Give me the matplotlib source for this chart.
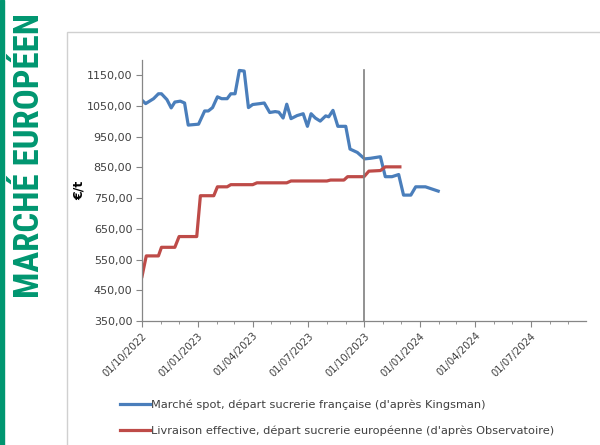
import matplotlib
matplotlib.use('Agg')
import matplotlib.pyplot as plt
import matplotlib.dates as mdates
from matplotlib.ticker import FuncFormatter
import numpy as np
import datetime as dt

# spot market, ex French sugar factory (Kingsman)
spot_dates = ['2022-10-01', '2022-10-07', '2022-10-20', '2022-10-28', '2022-11-02', '2022-11-11',
              '2022-11-18', '2022-11-24', '2022-12-03', '2022-12-10', '2022-12-16', '2023-01-02',
              '2023-01-12', '2023-01-18', '2023-01-25', '2023-02-02', '2023-02-09', '2023-02-18',
              '2023-02-24', '2023-03-03', '2023-03-10', '2023-03-18', '2023-03-25', '2023-04-01',
              '2023-04-13', '2023-04-20', '2023-04-29', '2023-05-08', '2023-05-14', '2023-05-21',
              '2023-05-27', '2023-06-03', '2023-06-13', '2023-06-23', '2023-06-30', '2023-07-06',
              '2023-07-13', '2023-07-21', '2023-07-30', '2023-08-04', '2023-08-11', '2023-08-19',
              '2023-09-01', '2023-09-08', '2023-09-20', '2023-10-02', '2023-10-12', '2023-10-28',
              '2023-11-05', '2023-11-16', '2023-11-27', '2023-12-05', '2023-12-17', '2023-12-25',
              '2024-01-10', '2024-01-31']
spot_values = [1069, 1058, 1074, 1090, 1090, 1071, 1044, 1063, 1066, 1060, 988, 991,
               1034, 1034, 1045, 1080, 1074, 1074, 1090, 1090, 1166, 1164, 1045, 1055,
               1058, 1060, 1029, 1032, 1030, 1011, 1056, 1009, 1019, 1025, 984, 1025,
               1011, 1001, 1018, 1015, 1036, 984, 984, 910, 899, 878, 880, 885,
               820, 820, 827, 760, 760, 787, 787, 773]

# effective delivery, ex EU sugar factory (Observatoire)
deliv_dates = ['2022-10-01', '2022-10-08', '2022-10-28', '2022-11-02', '2022-11-24', '2022-12-01',
               '2022-12-30', '2023-01-05', '2023-01-27', '2023-02-02', '2023-02-18', '2023-02-24',
               '2023-04-01', '2023-04-08', '2023-05-27', '2023-06-03', '2023-08-01', '2023-08-07',
               '2023-08-29', '2023-09-04', '2023-10-01', '2023-10-09', '2023-10-28', '2023-11-05',
               '2023-11-29']
deliv_values = [495, 562, 562, 590, 590, 625, 625, 758, 758, 787, 787, 794,
                794, 800, 800, 806, 806, 809, 809, 820, 820, 838, 840, 852,
                852]

marker_dates = ['2023-10-01', '2023-10-01']
marker_values = [350, 1168]

tick_dates = ['2022-10-01', '2023-01-01', '2023-04-01', '2023-07-01', '2023-10-01',
              '2024-01-01', '2024-04-01', '2024-07-01']

labels = ["Marché spot, départ sucrerie française (d'après Kingsman)",
          "Livraison effective, départ sucrerie européenne (d'après Observatoire)"]

BLUE = '#4a7ebb'
RED = '#be4b48'
GREEN = '#009670'
GREY = '#404040'


def to_dates(lst):
    return [dt.datetime.strptime(s, '%Y-%m-%d') for s in lst]


fig = plt.figure(figsize=(6, 4.45), dpi=100)

# green strip and title on the left
fig.patches.append(plt.Rectangle((0, 0), 4 / 600, 1, transform=fig.transFigure,
                                 color=GREEN, zorder=0))
fig.text(30 / 600, 1 - 156 / 445, 'MARCHÉ EUROPÉEN', rotation=90, color=GREEN,
         family=['Roboto Condensed', 'Roboto', 'DejaVu Sans'], fontweight='bold',
         fontsize=25, ha='center', va='center')

# chart frame
fig.patches.append(plt.Rectangle((67 / 600, -0.1), 1.0, 1 - 32 / 445 + 0.1,
                                 transform=fig.transFigure, fill=False,
                                 edgecolor='#d0d0d0', linewidth=1.0, zorder=0))

ax = fig.add_axes([142 / 600, 1 - 321 / 445, 444 / 600, 261 / 445])

l1, = ax.plot(to_dates(spot_dates), spot_values, color=BLUE, lw=2.3,
              solid_joinstyle='round')
l2, = ax.plot(to_dates(deliv_dates), deliv_values, color=RED, lw=2.3,
              solid_joinstyle='round')
ax.plot(to_dates(marker_dates), marker_values, color='#7f7f7f', lw=1.2)

ax.set_ylim(350, 1200)
ax.set_yticks(np.arange(350, 1151, 100))
ax.yaxis.set_major_formatter(FuncFormatter(lambda v, p: f'{v:.2f}'.replace('.', ',')))
ax.set_xlim(dt.datetime(2022, 10, 1), dt.datetime(2024, 9, 30))
ax.set_xticks(to_dates(tick_dates))
ax.xaxis.set_major_formatter(mdates.DateFormatter('%d/%m/%Y'))
ax.xaxis.set_minor_locator(mdates.MonthLocator())

for s in ['top', 'right']:
    ax.spines[s].set_visible(False)
for s in ['left', 'bottom']:
    ax.spines[s].set_color('#868686')
    ax.spines[s].set_linewidth(0.9)

ax.tick_params(axis='y', which='major', length=4, color='#868686', labelsize=8,
               labelcolor=GREY, pad=3)
ax.tick_params(axis='x', which='major', length=4, color='#868686', labelsize=7.2,
               labelcolor=GREY, pad=3)
ax.tick_params(axis='x', which='minor', length=2, color='#868686')
plt.setp(ax.get_xticklabels(), rotation=45, ha='right', rotation_mode='anchor')

ax.set_ylabel('€/t', fontsize=9, fontweight='bold', labelpad=1)

fig.legend([l1, l2], labels, loc='upper left', bbox_to_anchor=(110 / 600, 1 - 389 / 445),
           frameon=False, fontsize=8.2, handlelength=2.6, handletextpad=0.1,
           labelspacing=1.35, labelcolor=GREY)

fig.savefig('out.png', dpi=100)
